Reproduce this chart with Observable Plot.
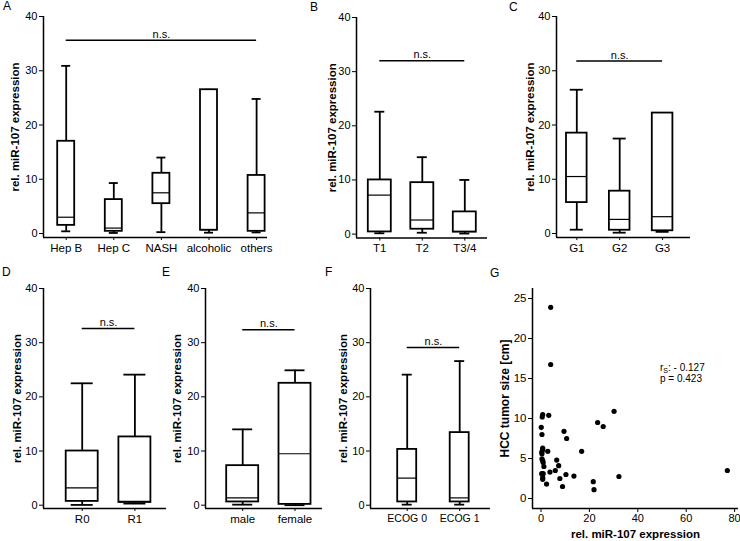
<!DOCTYPE html>
<html><head><meta charset="utf-8">
<script src="https://cdn.jsdelivr.net/npm/d3@7"></script>
<script src="https://cdn.jsdelivr.net/npm/@observablehq/plot@0.6"></script>
<style>
body{margin:0;background:#fff;font-family:"Liberation Sans",Arial,sans-serif;}
#fig{position:relative;width:740px;height:541px;overflow:hidden;background:#fff;}
.panel{position:absolute;}
.letter{position:absolute;font-size:12px;line-height:12px;color:#000;}
.corr{position:absolute;font-size:10px;line-height:11px;color:#000;}
.corr sub{font-size:7px;vertical-align:-2px;line-height:0;}
</style></head><body><div id="fig"></div><script>
// ---------- data ----------
const yTicksBox = [0, 10, 20, 30, 40];
const yLabelBox = "rel. miR-107 expression";

const catA = ["Hep B", "Hep C", "NASH", "alcoholic", "others"];
const whiskerHighA = [30.9, 9.3, 14.0, 26.5, 24.8];
const q3A = [17.0, 6.25, 11.1, 26.5, 10.7];
const medianA = [3.0, 1.0, 7.5, 0.7, 3.8];
const q1A = [1.5, 0.4, 5.5, 0.6, 0.4];
const whiskerLowA = [0.4, 0.1, 0.25, 0.15, 0.2];
const nsA = 35.6;

const catB = ["T1", "T2", "T3/4"];
const whiskerHighB = [22.6, 14.2, 10.0];
const q3B = [10.0, 9.5, 4.1];
const medianB = [7.2, 2.6, 0.5];
const q1B = [0.4, 0.9, 0.35];
const whiskerLowB = [0.15, 0.25, 0.1];
const nsB = 32.0;

const catC = ["G1", "G2", "G3"];
const whiskerHighC = [26.5, 17.5, 22.2];
const q3C = [18.5, 7.8, 22.2];
const medianC = [10.5, 2.6, 3.1];
const q1C = [5.7, 0.6, 0.5];
const whiskerLowC = [0.7, 0.15, 0.3];
const nsC = 31.8;

const catD = ["R0", "R1"];
const whiskerHighD = [22.5, 24.1];
const q3D = [10.0, 12.6];
const medianD = [3.2, 0.7];
const q1D = [0.7, 0.5];
const whiskerLowD = [0.05, 0.3];
const nsD = 32.6;

const catE = ["male", "female"];
const whiskerHighE = [14.0, 24.9];
const q3E = [7.3, 22.5];
const medianE = [1.35, 9.5];
const q1E = [0.6, 0.15];
const whiskerLowE = [0.1, 0.0];
const nsE = 32.4;

const catF = ["ECOG 0", "ECOG 1"];
const whiskerHighF = [24.1, 26.6];
const q3F = [10.3, 13.4];
const medianF = [5.0, 1.35];
const q1F = [0.6, 0.6];
const whiskerLowF = [0.1, 0.1];
const nsF = 29.1;

const gExpression = [4.0, 4.0, 0.7, 0.5, 3.2, 0.1, 0.4, 0.7, 0.7, 0.3, 0.4, 2.8, 0.4, 0.7, 0.9, 1.2, 0.3, 0.9, 0.7, 0.7, 2.3, 3.7, 5.9, 6.5, 7.3, 7.8, 8.9, 9.5, 10.6, 10.3, 13.6, 16.8, 21.6, 21.9, 23.4, 25.7, 30.2, 32.2, 77.0];
const gTumorSize = [23.9, 16.75, 10.5, 10.2, 10.4, 8.9, 8.0, 6.3, 6.1, 5.8, 5.6, 5.9, 4.95, 4.75, 4.5, 4.0, 3.1, 3.1, 2.6, 2.4, 1.8, 3.3, 3.5, 4.8, 4.1, 2.5, 1.5, 8.4, 7.5, 3.0, 2.8, 5.9, 2.1, 1.1, 9.5, 9.0, 10.9, 2.75, 3.5];
const gYTicks = [0, 5, 10, 15, 20, 25];
const gXTicks = [0, 20, 40, 60, 80];
const gYLabel = "HCC tumor size [cm]";
const gXLabel = "rel. miR-107 expression";

// ---------- drawing ----------
const FONT = '"Liberation Sans", Arial, sans-serif';
const fig = document.getElementById("fig");

function place(el, left, top) {
  el.classList.add("panel");
  el.style.left = left + "px";
  el.style.top = top + "px";
  fig.appendChild(el);
}
function letter(t, left, top) {
  const d = document.createElement("div");
  d.className = "letter"; d.textContent = t;
  d.style.left = left + "px"; d.style.top = top + "px";
  fig.appendChild(d);
}

function boxPanel(p) {
  const n = p.categories.length;
  const ML = 45, MR = 6, MT = 8, MB = 26;
  const sp = p.spacing;
  const xLo = (p.frameL - p.c0) / sp, xHi = (p.frameR - p.c0) / sp;
  const k = (p.zeroPx - p.top40) / 40;
  const yLow = -(p.axisPx - p.zeroPx) / k;
  const width = p.frameR - p.frameL + ML + MR;
  const height = p.axisPx - p.top40 + MT + MB;
  const rows = p.categories.map((c, i) => ({i, wl: p.wLow[i], q1: p.q1[i], med: p.median[i], q3: p.q3[i], wh: p.wHigh[i]}));
  const bw = p.boxHalf / sp, cw = p.capHalf / sp;
  const plot = Plot.plot({
    width, height, marginLeft: ML, marginRight: MR, marginTop: MT, marginBottom: MB,
    style: {background: "transparent", fontFamily: FONT, color: "#000", overflow: "visible"},
    x: {domain: [xLo, xHi]},
    y: {domain: [yLow, 40]},
    marks: [
      Plot.ruleX(rows, {x: "i", y1: "wl", y2: "wh", stroke: "#000", strokeWidth: 1.8}),
      Plot.ruleY(rows, {y: "wh", x1: d => d.i - cw, x2: d => d.i + cw, stroke: "#000", strokeWidth: 1.8}),
      Plot.ruleY(rows, {y: "wl", x1: d => d.i - cw, x2: d => d.i + cw, stroke: "#000", strokeWidth: 1.8}),
      Plot.rect(rows, {x1: d => d.i - bw, x2: d => d.i + bw, y1: "q1", y2: "q3", fill: "white", stroke: "#000", strokeWidth: 1.8}),
      Plot.ruleY(rows, {y: "med", x1: d => d.i - bw, x2: d => d.i + bw, stroke: "#000", strokeWidth: 1.2}),
      Plot.ruleX([xLo], {y1: yLow, y2: 40, stroke: "#000", strokeWidth: 1.5}),
      Plot.ruleY([yLow], {x1: xLo, x2: xHi, stroke: "#000", strokeWidth: 1.5}),
      Plot.axisY(yTicksBox, {tickSize: 4, tickPadding: 2, fontSize: 11, label: null}),
      Plot.axisX(d3.range(n), {tickSize: 3, tickPadding: 3, tickFormat: i => p.categories[i], fontSize: p.catFont, label: null}),
      Plot.ruleY([p.ns], {x1: 0, x2: n - 1, stroke: "#000", strokeWidth: 1.5}),
      Plot.text(["n.s."], {x: (n - 1) / 2, y: p.ns, dy: -6, fontSize: 11}),
      Plot.text([yLabelBox], {frameAnchor: "left", textAnchor: "middle", lineAnchor: "middle", rotate: -90, dx: -p.labelDx, fontWeight: "bold", fontSize: 11.5})
    ]
  });
  place(plot, p.frameL - ML, p.top40 - MT);
}

boxPanel({categories: catA, wHigh: whiskerHighA, q3: q3A, median: medianA, q1: q1A, wLow: whiskerLowA, ns: nsA,
  frameL: 43, frameR: 267, top40: 16, zeroPx: 233, axisPx: 237, c0: 65.7, spacing: 47.6, boxHalf: 8.5, capHalf: 4.5, catFont: 11.5, labelDx: 28});
boxPanel({categories: catB, wHigh: whiskerHighB, q3: q3B, median: medianB, q1: q1B, wLow: whiskerLowB, ns: nsB,
  frameL: 356, frameR: 487, top40: 16.7, zeroPx: 233.3, axisPx: 237.3, c0: 379.3, spacing: 42.5, boxHalf: 11.5, capHalf: 5, catFont: 11.5, labelDx: 24});
boxPanel({categories: catC, wHigh: whiskerHighC, q3: q3C, median: medianC, q1: q1C, wLow: whiskerLowC, ns: nsC,
  frameL: 556, frameR: 690, top40: 16, zeroPx: 233, axisPx: 237, c0: 576.3, spacing: 42.9, boxHalf: 10.3, capHalf: 6.5, catFont: 11.5, labelDx: 26});
boxPanel({categories: catD, wHigh: whiskerHighD, q3: q3D, median: medianD, q1: q1D, wLow: whiskerLowD, ns: nsD,
  frameL: 43, frameR: 166, top40: 288.3, zeroPx: 505, axisPx: 508.3, c0: 81.7, spacing: 52.7, boxHalf: 16, capHalf: 11, catFont: 11.5, labelDx: 26});
boxPanel({categories: catE, wHigh: whiskerHighE, q3: q3E, median: medianE, q1: q1E, wLow: whiskerLowE, ns: nsE,
  frameL: 205, frameR: 322, top40: 288.3, zeroPx: 505, axisPx: 508.3, c0: 242.2, spacing: 52.3, boxHalf: 16, capHalf: 10, catFont: 11.5, labelDx: 28});
boxPanel({categories: catF, wHigh: whiskerHighF, q3: q3F, median: medianF, q1: q1F, wLow: whiskerLowF, ns: nsF,
  frameL: 370, frameR: 490, top40: 288.3, zeroPx: 505, axisPx: 508.3, c0: 406.7, spacing: 52.5, boxHalf: 9.5, capHalf: 5, catFont: 10.5, labelDx: 27});

// Panel G scatter
(function () {
  const frameL = 532, frameR = 738, topPx = 288, axisPx = 508;
  const x0Px = 540.5, pxPerX = 2.42, y0Px = 498, pxPerY = 8;
  const ML = 50, MR = 2, MT = 8, MB = 33;
  const xLo = (frameL - x0Px) / pxPerX, xHi = (frameR - x0Px) / pxPerX;
  const yHi = (y0Px - topPx) / pxPerY, yLo = (y0Px - axisPx) / pxPerY;
  const pts = gExpression.map((x, i) => ({x, y: gTumorSize[i]}));
  const plot = Plot.plot({
    width: frameR - frameL + ML + MR, height: axisPx - topPx + MT + MB,
    marginLeft: ML, marginRight: MR, marginTop: MT, marginBottom: MB,
    style: {background: "transparent", fontFamily: FONT, color: "#000", overflow: "visible"},
    x: {domain: [xLo, xHi]}, y: {domain: [yLo, yHi]},
    marks: [
      Plot.ruleX([xLo], {y1: yLo, y2: yHi, stroke: "#000", strokeWidth: 1.5}),
      Plot.ruleY([yLo], {x1: xLo, x2: xHi, stroke: "#000", strokeWidth: 1.5}),
      Plot.axisY(gYTicks, {tickSize: 4, tickPadding: 2, fontSize: 11.5, label: null}),
      Plot.axisX(gXTicks, {tickSize: 4, tickPadding: 2, fontSize: 11, label: null}),
      Plot.dot(pts, {x: "x", y: "y", r: 2.6, fill: "#000", stroke: "none"}),
      Plot.text([gYLabel], {frameAnchor: "left", textAnchor: "middle", lineAnchor: "middle", rotate: -90, dx: -27, fontWeight: "bold", fontSize: 12}),
      Plot.text([gXLabel], {frameAnchor: "bottom", textAnchor: "middle", lineAnchor: "middle", dy: 26, fontWeight: "bold", fontSize: 11.5})
    ]
  });
  place(plot, frameL - ML, topPx - MT);
  const c = document.createElement("div");
  c.className = "corr";
  c.innerHTML = "r<sub>S</sub>: - 0.127<br>p = 0.423";
  c.style.left = "660px"; c.style.top = "362px";
  fig.appendChild(c);
})();

letter("A", 3, 0); letter("B", 310, 1); letter("C", 509, 1);
letter("D", 2, 266); letter("E", 162, 266); letter("F", 325, 266); letter("G", 490, 267);
</script></body></html>
